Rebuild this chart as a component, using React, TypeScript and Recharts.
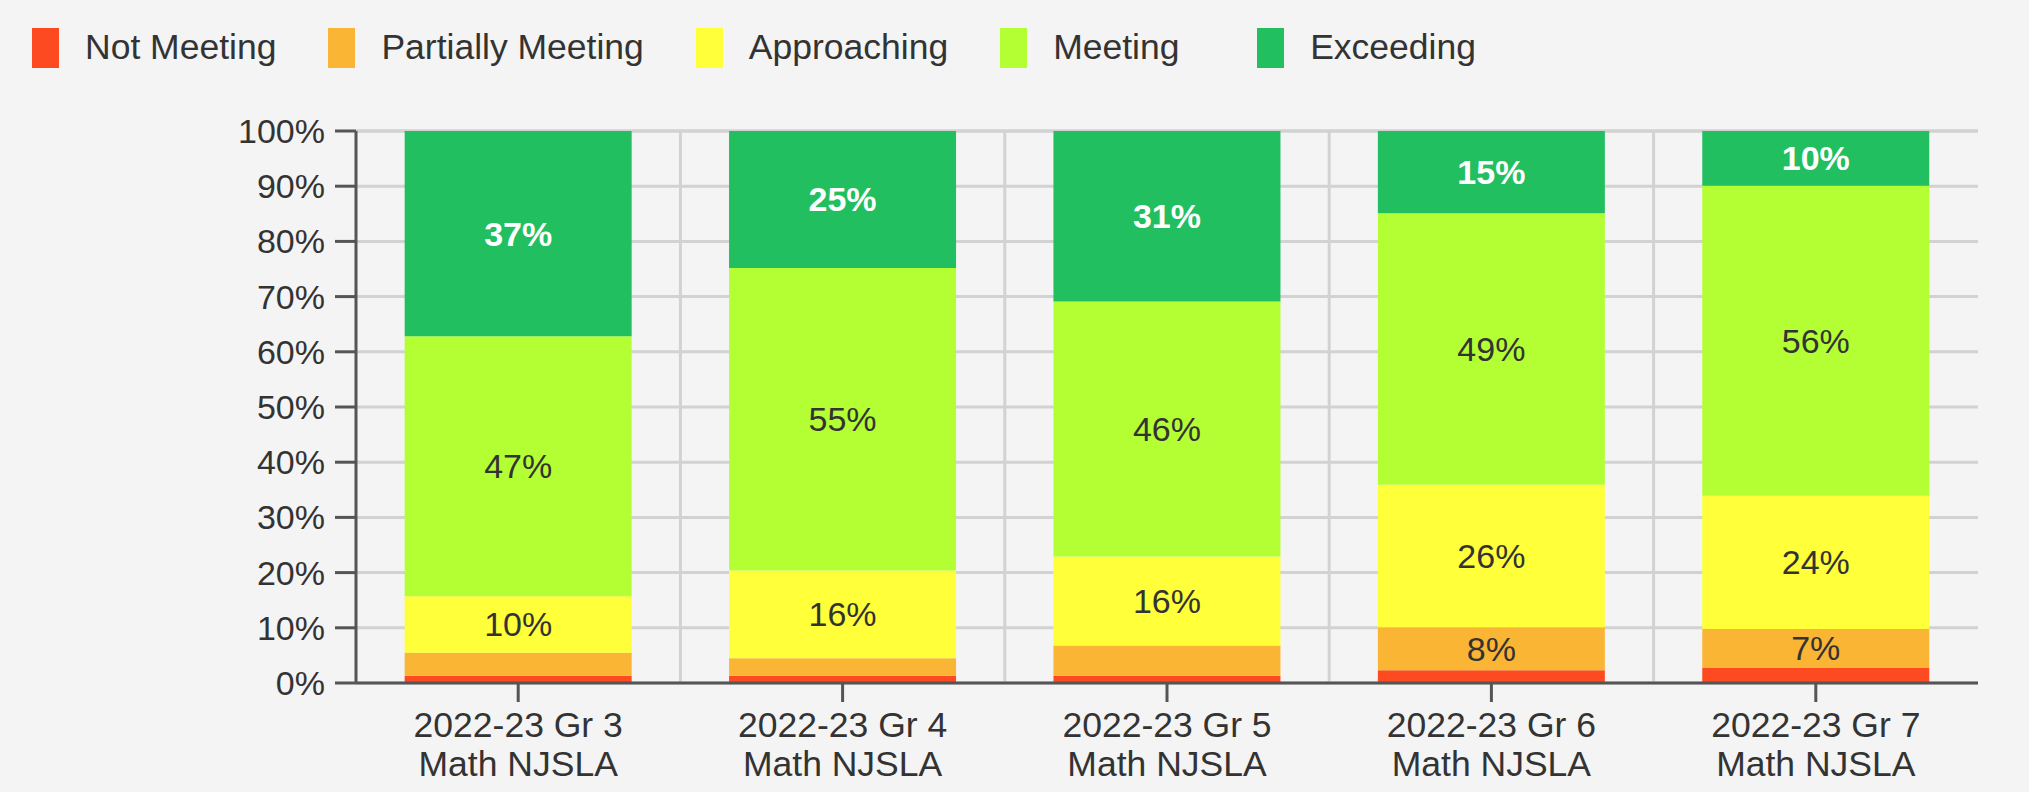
import React from "react";
import { BarChart, Bar, XAxis, YAxis, CartesianGrid, LabelList } from "recharts";

const categories = [
  "2022-23 Gr 3\nMath NJSLA",
  "2022-23 Gr 4\nMath NJSLA",
  "2022-23 Gr 5\nMath NJSLA",
  "2022-23 Gr 6\nMath NJSLA",
  "2022-23 Gr 7\nMath NJSLA",
];
const notMeeting = [1.3, 1.3, 1.3, 2.3, 2.7];
const partiallyMeeting = [4.2, 3.2, 5.5, 7.8, 7.1];
const approaching = [10.2, 15.9, 16.1, 25.8, 24.1];
const meeting = [47.1, 54.8, 46.2, 49.2, 56.2];
const exceeding = [37.2, 24.8, 30.9, 14.9, 9.9];
const yTicks = [0, 10, 20, 30, 40, 50, 60, 70, 80, 90, 100];

const series = [
  { key: "notMeeting", name: "Not Meeting", color: "#fe4a20" },
  { key: "partiallyMeeting", name: "Partially Meeting", color: "#fbb534" },
  { key: "approaching", name: "Approaching", color: "#ffff3a" },
  { key: "meeting", name: "Meeting", color: "#b4ff33" },
  { key: "exceeding", name: "Exceeding", color: "#21bf5f" },
];

const data = categories.map((name, i) => ({
  name,
  notMeeting: notMeeting[i],
  partiallyMeeting: partiallyMeeting[i],
  approaching: approaching[i],
  meeting: meeting[i],
  exceeding: exceeding[i],
}));

const FONT = '"Liberation Sans", Arial, sans-serif';

function XTick({ x, y, payload }: any) {
  const lines = String(payload.value).split("\n");
  return (
    <text x={x} y={y} textAnchor="middle" fontSize={35.5} fontFamily={FONT} fill="#333">
      {lines.map((l, i) => (
        <tspan key={i} x={x} y={y + 33 + i * 39}>
          {l}
        </tspan>
      ))}
    </text>
  );
}

function segLabel(bold: boolean) {
  return (props: any) => {
    const { x, y, width, height, value } = props;
    if (value < 6.5) return null;
    return (
      <text
        x={x + width / 2}
        y={y + height / 2}
        dy="0.35em"
        textAnchor="middle"
        fontSize={34}
        fontFamily={FONT}
        fontWeight={bold ? "bold" : "normal"}
        fill={bold ? "#ffffff" : "#333333"}
      >
        {Math.round(value) + "%"}
      </text>
    );
  };
}

export default function App() {
  return (
    <div
      style={{
        position: "absolute",
        left: 0,
        top: 0,
        width: 2029,
        height: 792,
        background: "#f4f4f4",
        fontFamily: FONT,
      }}
    >
      <div style={{ position: "absolute", left: 32, top: 27, display: "flex", alignItems: "center" }}>
        {series.map((s) => (
          <div
            key={s.key}
            style={{
              display: "flex",
              alignItems: "center",
              minWidth: 257,
              paddingRight: 52,
              boxSizing: "border-box",
            }}
          >
            <div style={{ width: 27, height: 40, background: s.color, marginRight: 26 }} />
            <span style={{ fontSize: 35.5, color: "#333", whiteSpace: "nowrap" }}>{s.name}</span>
          </div>
        ))}
      </div>
      <div style={{ position: "absolute", left: 0, top: 0 }}>
        <BarChart
          width={2029}
          height={792}
          data={data}
          margin={{ top: 131, right: 51, bottom: 0, left: 0 }}
          barCategoryGap="15%"
        >
          <CartesianGrid
            stroke="#d2d2d2"
            strokeWidth={3}
            verticalCoordinatesGenerator={({ offset }: any) =>
              categories.slice(1).map((_, i) => offset.left + (offset.width * (i + 1)) / categories.length)
            }
          />
          <XAxis
            xAxisId="edges"
            type="number"
            domain={[0, categories.length]}
            ticks={[0, categories.length]}
            height={0}
            axisLine={false}
            tick={false}
            tickSize={19}
            tickLine={{ stroke: "#555", strokeWidth: 3 }}
          />
          <XAxis
            dataKey="name"
            height={109}
            interval={0}
            tickSize={19}
            tickLine={{ stroke: "#555", strokeWidth: 3 }}
            axisLine={{ stroke: "#555", strokeWidth: 3 }}
            tick={<XTick />}
          />
          <YAxis
            width={356}
            domain={[0, 100]}
            ticks={yTicks}
            tickFormatter={(v) => v + "%"}
            tickSize={21}
            tickMargin={10}
            tick={{ fontSize: 34, fill: "#333", fontFamily: FONT }}
            tickLine={{ stroke: "#555", strokeWidth: 3 }}
            axisLine={{ stroke: "#555", strokeWidth: 3 }}
          />
          {series.map((s) => (
            <Bar key={s.key} dataKey={s.key} name={s.name} stackId="a" fill={s.color} isAnimationActive={false}>
              <LabelList dataKey={s.key} content={segLabel(s.key === "exceeding")} />
            </Bar>
          ))}
        </BarChart>
      </div>
    </div>
  );
}
